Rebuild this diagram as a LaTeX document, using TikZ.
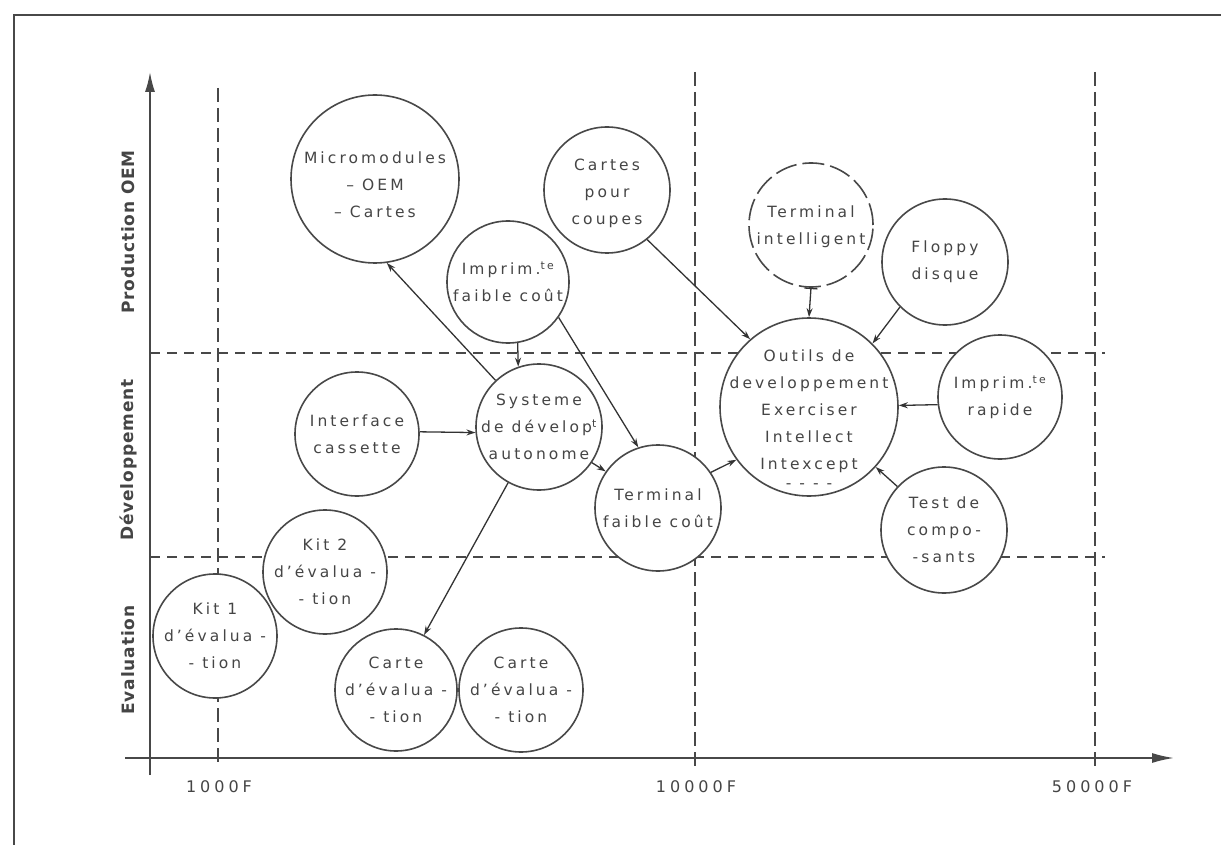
\documentclass[tikz,border=0pt]{standalone}
\usepackage{fontspec}
\setmainfont{DejaVu Sans}[LetterSpace=20]
\newfontfamily\axfont{DejaVu Sans}[LetterSpace=5]
\newfontfamily\numfont{DejaVu Sans}[LetterSpace=25]
\usetikzlibrary{arrows.meta}
\definecolor{ink}{HTML}{484848}
\definecolor{txt}{HTML}{454545}
\begin{document}
\begin{tikzpicture}[x=1pt,y=-1pt,
  bub/.style={circle, draw=ink, line width=1.6pt, fill=white, inner sep=0pt},
  dbub/.style={bub, dash pattern=on 22pt off 6pt},
  ctext/.style={align=center, text=txt, font=\fontsize{15.5}{27}\selectfont, inner sep=0pt},
  hgrid/.style={draw=ink, line width=1.7pt, dash pattern=on 10pt off 7pt},
  vgrid/.style={draw=ink, line width=1.5pt, dash pattern=on 14pt off 6pt},
  conn/.style={draw=black!80, line width=1.3pt, -{Stealth[length=9pt,width=6pt]}},
  bconn/.style={draw=black!80, line width=1.3pt, {Bar[width=13pt]}-{Stealth[length=9pt,width=6pt]}},
  axisline/.style={draw=ink, line width=1.7pt},
  axlab/.style={rotate=90, text=txt, inner sep=0pt, font=\axfont\bfseries\fontsize{17}{19}\selectfont},
  num/.style={text=txt, inner sep=0pt, font=\numfont\fontsize{16}{18}\selectfont}
]
\useasboundingbox (0,0) rectangle (1221,845);
\fill[white] (0,0) rectangle (1221,845);

% frame
\coordinate (fb) at (14,845);
\coordinate (ftl) at (14,15);
\coordinate (ftr) at (1221,15);
\draw[ink, line width=2.5pt] (fb) -- (ftl) -- (ftr);

% grid
\coordinate (v1t) at (218,88);   \coordinate (v1b) at (218,767);
\coordinate (v2t) at (695,72);   \coordinate (v2b) at (695,766);
\coordinate (v3t) at (1095,72);  \coordinate (v3b) at (1095,766);
\coordinate (h1l) at (150,353);  \coordinate (h1r) at (1105,353);
\coordinate (h2l) at (150,557);  \coordinate (h2r) at (1105,557);
\draw[vgrid] (v1t) -- (v1b);
\draw[vgrid] (v2t) -- (v2b);
\draw[vgrid] (v3t) -- (v3b);
\draw[hgrid] (h1l) -- (h1r);
\draw[hgrid] (h2l) -- (h2r);

% axes
\coordinate (yb) at (150,775); \coordinate (yt) at (150,72);
\coordinate (xl) at (125,758); \coordinate (xr) at (1174,758);
\draw[axisline, -{Latex[length=20pt,width=10pt]}] (yb) -- (yt);
\draw[axisline, -{Latex[length=22pt,width=10pt]}] (xl) -- (xr);

% axis labels
\node[axlab] (lp) at (128,232) {Production OEM};
\node[axlab] (ld) at (128,460) {Développement};
\node[axlab] (le) at (128,660) {Evaluation};
\node[num] (n1) at (219,787) {1000F};
\node[num] (n2) at (696,787) {10000F};
\node[num] (n3) at (1092,787) {50000F};

% bubbles
\node[bub, minimum size=168pt, label={[ctext, yshift=-6pt]center:{Micromodules\\– OEM\\– Cartes}}] (mic) at (375,179) {};
\node[bub, minimum size=126pt, label={[ctext, yshift=-3pt]center:{Cartes\\pour\\coupes}}] (cpc) at (607,190) {};
\node[bub, minimum size=122pt, label={[ctext]center:{Imprim.\textsuperscript{te}\\faible coût}}] (imp) at (508,282) {};
\node[dbub, minimum size=124pt, label={[ctext, yshift=-2pt]center:{Terminal\\intelligent}}] (ti) at (811,225) {};
\node[bub, minimum size=126pt, label={[ctext]center:{Floppy\\disque}}] (flo) at (945,262) {};
\node[bub, minimum size=178pt, label={[ctext, yshift=-12pt]center:{Outils de\\developpement\\Exerciser\\Intellect\\Intexcept\\[-8pt]- - - -}}] (out) at (809,407) {};
\node[bub, minimum size=124pt, label={[ctext]center:{Imprim.\textsuperscript{te}\\rapide}}] (rap) at (1000,397) {};
\node[bub, minimum size=126pt, label={[ctext]center:{Test de\\compo-\\-sants}}] (tst) at (944,530) {};
\node[bub, minimum size=126pt, label={[ctext]center:{Terminal\\faible coût}}] (tfc) at (658,508) {};
\node[bub, minimum size=126pt, label={[ctext]center:{Systeme\\de dévelop\textsuperscript{t}\\autonome}}] (sys) at (539,427) {};
\node[bub, minimum size=124pt, label={[ctext]center:{Interface\\cassette}}] (ifc) at (357,434) {};
\node[bub, minimum size=124pt, label={[ctext]center:{Kit 2\\d'évalua -\\- tion}}] (k2) at (325,572) {};
\node[bub, minimum size=124pt, label={[ctext]center:{Kit 1\\d'évalua -\\- tion}}] (k1) at (215,636) {};
\node[bub, minimum size=122pt, label={[ctext]center:{Carte\\d'évalua -\\- tion}}] (ca1) at (396,690) {};
\node[bub, minimum size=124pt, label={[ctext]center:{Carte\\d'évalua -\\- tion}}] (ca2) at (521,690) {};

% connectors
\draw[conn] (sys.133) -- (mic.-82);
\draw[conn] (imp.-81) -- (sys.109);
\draw[conn] (imp.-35) -- (tfc.108);
\draw[conn] (cpc.-51) -- (out.131);
\draw[bconn] (ti.south) -- (out.north);
\draw[conn] (flo.-135) -- (out.45);
\draw[conn] (rap.187) -- (out.1);
\draw[conn] (tst.137) -- (out.-42);
\draw[conn] (tfc.34) -- (out.216);
\draw[conn] (sys.-34) -- (tfc.145);
\draw[conn] (ifc.2) -- (sys.185);
\draw[conn] (sys.241) -- (ca1.63);
\end{tikzpicture}
\end{document}
